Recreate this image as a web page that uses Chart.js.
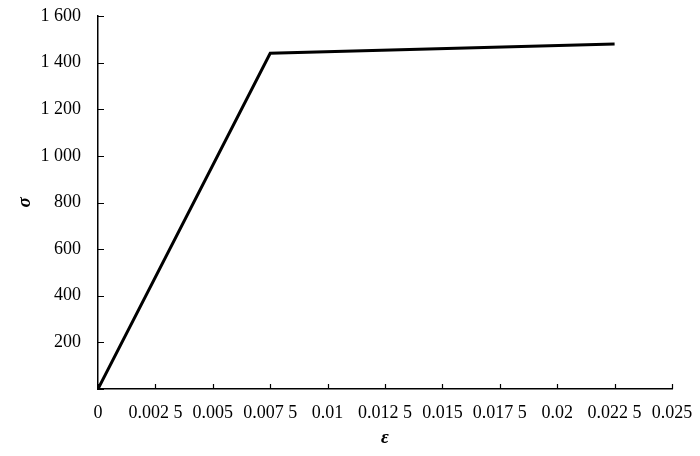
<!DOCTYPE html>
<html>
<head>
<meta charset="utf-8">
<script src="https://cdn.jsdelivr.net/npm/chart.js@4/dist/chart.umd.min.js"></script>
<style>
  html, body { margin: 0; padding: 0; background: #fff; }
  #wrap { width: 700px; height: 456px; }
</style>
</head>
<body>
<div id="wrap"><canvas id="myChart"></canvas></div>
<script>
// strain / stress points
var strain = [0, 0.0075, 0.0225];
var stress = [0, 1440, 1480];

var xTickLabels = ["0", "0.002 5", "0.005", "0.007 5", "0.01", "0.012 5", "0.015", "0.017 5", "0.02", "0.022 5", "0.025"];
var yTickLabels = ["", "200", "400", "600", "800", "1 000", "1 200", "1 400", "1 600"];

var font = "'Liberation Serif', 'DejaVu Serif', serif";

// short ticks pointing into the plot
var innerTicks = {
  id: 'innerTicks',
  afterDraw: function(chart) {
    var ctx = chart.ctx;
    var xs = chart.scales.x, ys = chart.scales.y;
    ctx.save();
    ctx.strokeStyle = '#000';
    ctx.lineWidth = 1.2;
    ctx.beginPath();
    xs.ticks.forEach(function(t, i) {
      var px = Math.round(xs.getPixelForTick(i)) + 0.5;
      ctx.moveTo(px, ys.bottom);
      ctx.lineTo(px, ys.bottom - 5);
    });
    ys.ticks.forEach(function(t, i) {
      var py = Math.round(ys.getPixelForTick(i)) + 0.5;
      ctx.moveTo(xs.left, py);
      ctx.lineTo(xs.left + 6, py);
    });
    ctx.stroke();
    ctx.restore();
  }
};

var data = {
  datasets: [{
    data: strain.map(function(x, i) { return { x: x, y: stress[i] }; }),
    borderColor: '#000',
    borderWidth: 3,
    pointRadius: 0,
    fill: false,
    tension: 0
  }]
};

var ctx = document.getElementById('myChart');
var myChart = new Chart(ctx, {
  type: 'line',
  data: data,
  plugins: [innerTicks],
  options: {
    responsive: true,
    maintainAspectRatio: false,
    animation: false,
    layout: { padding: { top: 16, right: 28, left: 0, bottom: 0 } },
    plugins: { legend: { display: false }, tooltip: { enabled: false } },
    scales: {
      x: {
        type: 'linear',
        min: 0,
        max: 0.025,
        afterFit: function(s) {
          s.height = 67;
          s.paddingLeft = 0;
          s.paddingRight = 0;
        },
        ticks: {
          stepSize: 0.0025,
          color: '#000',
          font: { family: font, size: 18 },
          maxRotation: 0,
          autoSkip: false,
          padding: 13,
          callback: function(v, i) { return xTickLabels[i]; }
        },
        grid: { display: false, drawTicks: false },
        border: { display: true, color: '#000', width: 1.5 },
        title: {
          display: true,
          text: 'ε',
          color: '#000',
          font: { family: font, size: 19, style: 'italic', weight: 'bold' },
          padding: { top: 0, bottom: 7 }
        }
      },
      y: {
        min: 0,
        max: 1600,
        afterFit: function(s) {
          s.width = 98;
          s.paddingTop = 0;
          s.paddingBottom = 0;
        },
        ticks: {
          stepSize: 200,
          color: '#000',
          font: { family: font, size: 18 },
          padding: 17,
          callback: function(v, i) { return yTickLabels[i]; }
        },
        grid: { display: false, drawTicks: false },
        border: { display: true, color: '#000', width: 1.5 },
        title: {
          display: true,
          text: 'σ',
          color: '#000',
          font: { family: font, size: 19, style: 'italic', weight: 'bold' },
          padding: { top: 14, bottom: 0 }
        }
      }
    }
  }
});
</script>
</body>
</html>
